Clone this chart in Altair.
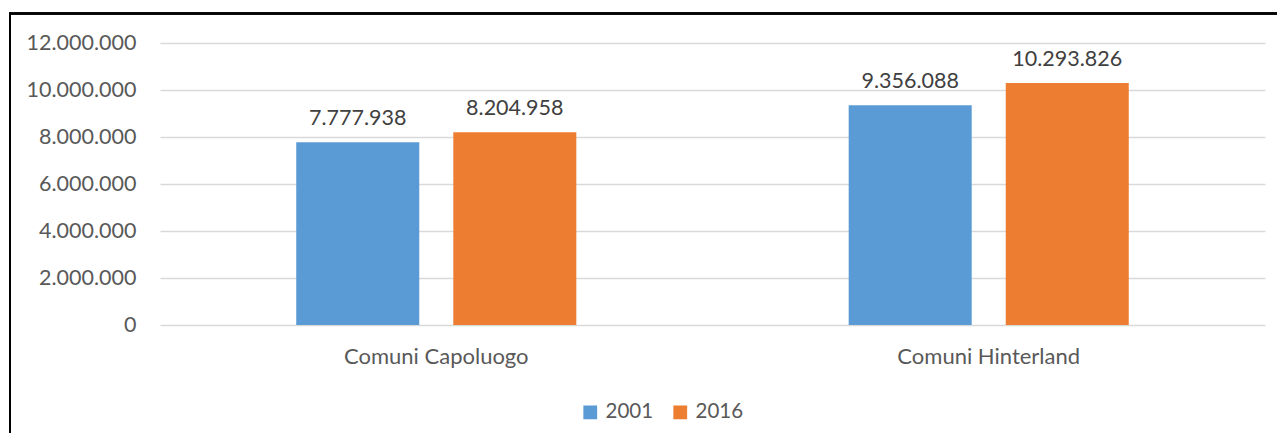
import altair as alt
import pandas as pd

categories = ["Comuni Capoluogo", "Comuni Capoluogo", "Comuni Hinterland", "Comuni Hinterland"]
years = ["2001", "2016", "2001", "2016"]
values = [7777938, 8204958, 9356088, 10293826]

df = pd.DataFrame({"categoria": categories, "anno": years, "valore": values})
df["etichetta"] = [f"{v:,}".replace(",", ".") for v in values]

FONT = "Lato"
GRAY = "#595959"
FS = 21.5

x = alt.X("categoria:N", title=None,
          scale=alt.Scale(paddingInner=0.493, paddingOuter=0.2466),
          axis=alt.Axis(labelAngle=0, ticks=False, domain=False, grid=False, labelPadding=21,
                        labelFontSize=22, labelColor=GRAY, labelFont=FONT, labelLimit=0))
xo = alt.XOffset("anno:N", scale=alt.Scale(paddingInner=0.2166, paddingOuter=0))
y = alt.Y("valore:Q", title=None,
          scale=alt.Scale(domain=[0, 12000000]),
          axis=alt.Axis(values=[0, 2000000, 4000000, 6000000, 8000000, 10000000, 12000000],
                        labelExpr="replace(replace(format(datum.value, ',d'), ',', '.'), ',', '.')",
                        ticks=False, domain=False, labelPadding=24, gridColor="#D9D9D9",
                        gridWidth=1.5, labelFontSize=FS, labelColor=GRAY, labelFont=FONT))
color = alt.Color("anno:N", title=None,
                  scale=alt.Scale(domain=["2001", "2016"], range=["#5B9BD5", "#ED7D31"]),
                  legend=alt.Legend(orient="none", legendX=420, legendY=359, direction="horizontal",
                                    symbolType="square", symbolSize=190, symbolStrokeWidth=0,
                                    labelFontSize=20.5, labelColor=GRAY, labelFont=FONT,
                                    labelOffset=5, columnPadding=16, padding=0))

base = alt.Chart(df).encode(x=x, xOffset=xo)
bars = base.mark_bar().encode(y=y, color=color)
labels = base.mark_text(baseline="alphabetic", dy=-17, fontSize=FS, font=FONT, color="#404040").encode(
    y=alt.Y("valore:Q"), text="etichetta:N")

border_top = alt.Chart(df).mark_rule(color="black", strokeWidth=2).encode(
    x=alt.value(-150), x2=alt.value(1117), y=alt.value(-29.5))
border_left = alt.Chart(df).mark_rule(color="black", strokeWidth=2).encode(
    x=alt.value(-150), y=alt.value(-30.5), y2=alt.value(395))

chart = alt.layer(bars, labels, border_top, border_left).properties(
    width=1105, height=282,
    background="white",
    autosize=alt.AutoSizeParams(type="none"),
    padding={"left": 152, "top": 35, "right": 12, "bottom": 108},
).configure_view(stroke=None)

chart.save("out.html", embed_options={"renderer": "svg", "actions": False})
